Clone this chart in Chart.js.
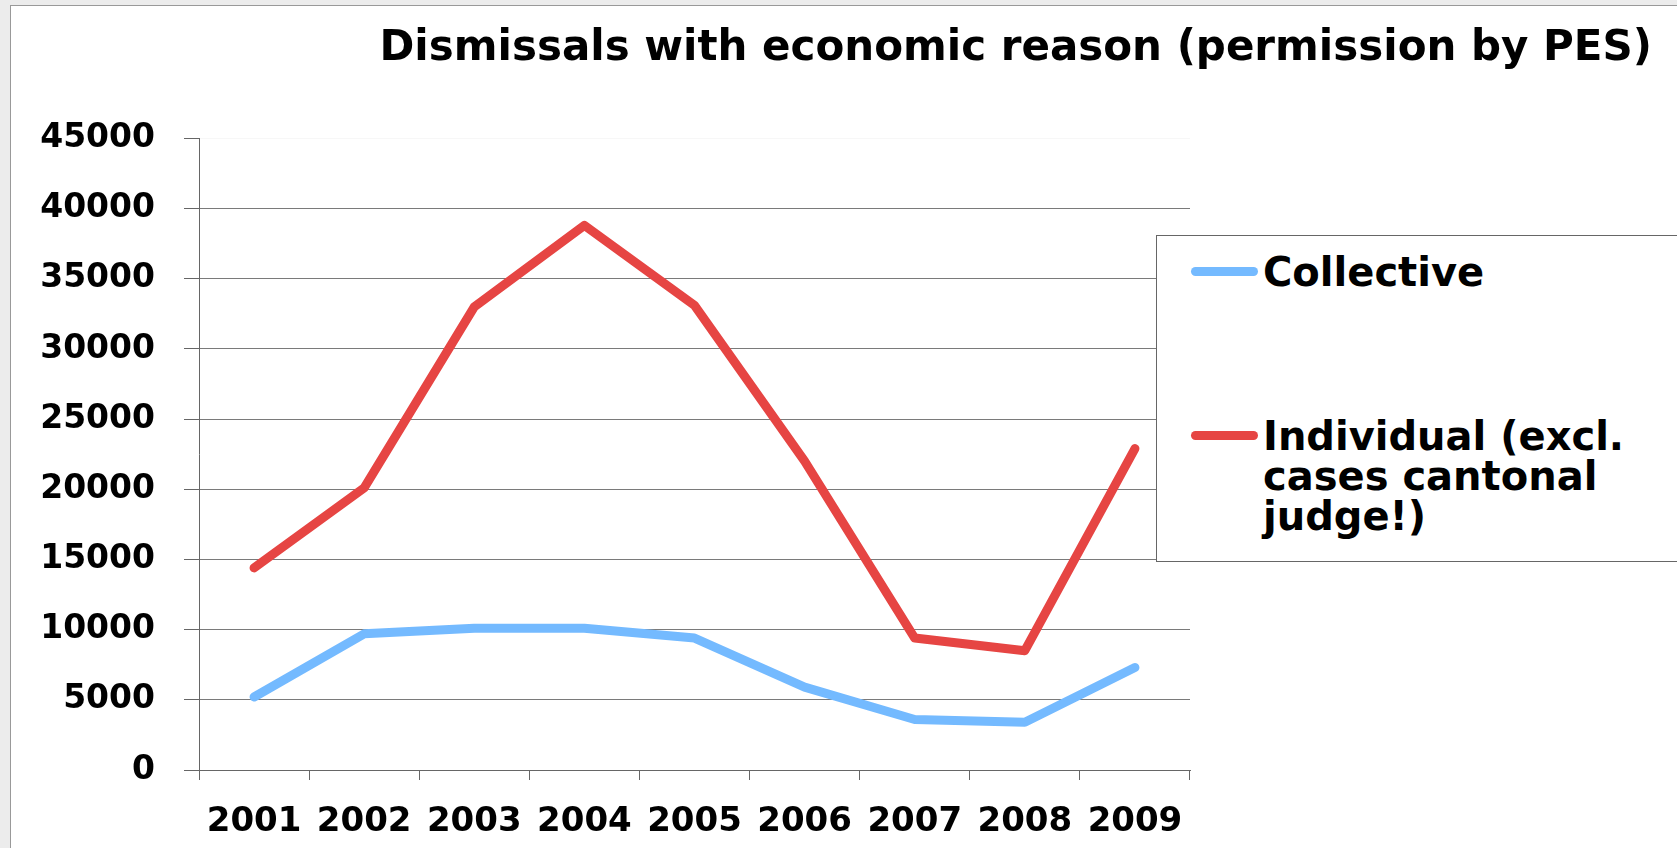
<!DOCTYPE html>
<html>
<head>
<meta charset="utf-8">
<script src="https://cdn.jsdelivr.net/npm/chart.js@4.4.1/dist/chart.umd.min.js"></script>
<style>
    body { margin: 0; background: #ececec; overflow: hidden; }
    #panel {
        position: absolute; left: 10px; top: 5px; width: 1667px; height: 843px;
        background: #fff; border-left: 1px solid #999; border-top: 1px solid #999;
    }
    #chart { display: block; }
    #legend {
        position: absolute; left: 1156px; top: 235px; width: 600px; height: 327px;
        background: #fff; border: 1px solid #666; box-sizing: border-box;
        font-family: 'DejaVu Sans', sans-serif; font-weight: bold; font-size: 40px; line-height: 40px;
        color: #000;
    }
    #legend ul { list-style: none; margin: 0; padding: 0 0 0 34px; }
    #legend li { display: flex; align-items: flex-start; }
    #legend li:first-child { margin-top: 16px; }
    #legend li + li { margin-top: 124px; }
    #legend .mark { flex: none; width: 67px; height: 9px; border-radius: 5px; margin: 15px 5px 0 0; }
    #legend .txt { width: 420px; }
</style>
</head>
<body>
<div id="panel">
    <canvas id="chart" width="1666" height="842"></canvas>
</div>
<div id="legend"></div>
<script>
    // Dữ liệu
    const years = ['2001', '2002', '2003', '2004', '2005', '2006', '2007', '2008', '2009'];
    const collective = [5200, 9700, 10100, 10100, 9400, 5900, 3600, 3400, 7300];
    const individual = [14400, 20100, 33000, 38800, 33100, 22000, 9400, 8500, 22900];
    const yMin = 0;
    const yMax = 45000;
    const yStep = 5000;

    // Legend HTML nằm đè lên vùng biểu đồ
    const htmlLegend = {
        id: 'htmlLegend',
        afterUpdate(chart) {
            const box = document.getElementById('legend');
            box.innerHTML = '';
            const ul = document.createElement('ul');
            const items = chart.options.plugins.legend.labels.generateLabels(chart);
            items.forEach(item => {
                const li = document.createElement('li');
                const mark = document.createElement('span');
                mark.className = 'mark';
                mark.style.background = item.strokeStyle;
                const txt = document.createElement('span');
                txt.className = 'txt';
                txt.textContent = item.text;
                li.appendChild(mark);
                li.appendChild(txt);
                ul.appendChild(li);
            });
            box.appendChild(ul);
        }
    };

    const ctx = document.getElementById('chart').getContext('2d');
    const chart = new Chart(ctx, {
        type: 'line',
        data: {
            labels: years,
            datasets: [{
                label: 'Collective',
                data: collective,
                borderColor: 'rgb(116, 186, 255)',
                backgroundColor: 'rgb(116, 186, 255)',
                borderWidth: 9,
                borderCapStyle: 'round',
                borderJoinStyle: 'round',
                pointRadius: 0,
                tension: 0
            }, {
                label: 'Individual (excl. cases cantonal judge!)',
                data: individual,
                borderColor: 'rgb(230, 69, 67)',
                backgroundColor: 'rgb(230, 69, 67)',
                borderWidth: 9,
                borderCapStyle: 'round',
                borderJoinStyle: 'round',
                pointRadius: 0,
                tension: 0
            }]
        },
        options: {
            responsive: false,
            animation: false,
            devicePixelRatio: 1,
            layout: { padding: { top: 0, left: 0, right: 25, bottom: 0 } },
            plugins: {
                legend: { display: false },
                tooltip: { enabled: false },
                title: {
                    display: true,
                    text: 'Dismissals with economic reason (permission by PES)',
                    align: 'end',
                    color: '#000',
                    font: { family: 'DejaVu Sans', size: 42, weight: 'bold', lineHeight: 1.2 },
                    padding: { top: 18, bottom: 64 }
                }
            },
            scales: {
                x: {
                    offset: true,
                    grid: { display: true, drawOnChartArea: false, drawTicks: true, tickLength: 10, color: '#666', offset: true },
                    border: { display: true, color: '#666' },
                    ticks: {
                        color: '#000',
                        padding: 22,
                        maxRotation: 0,
                        font: { family: 'DejaVu Sans', size: 34, weight: 'bold' }
                    },
                    afterFit(scale) { scale.height = 78; }
                },
                y: {
                    min: yMin,
                    max: yMax,
                    grid: {
                        color: c => c.tick && c.tick.value === yMax ? 'rgba(0,0,0,0.03)' : '#7a7a7a',
                        tickColor: '#666',
                        tickLength: 15
                    },
                    border: { display: true, color: '#666' },
                    ticks: {
                        stepSize: yStep,
                        color: '#000',
                        padding: 29,
                        format: { useGrouping: false },
                        font: { family: 'DejaVu Sans', size: 33, weight: 'bold' }
                    },
                    afterFit(scale) { scale.width = 188; }
                },
                // trục phụ chỉ để chừa khoảng trống bên phải (chỗ legend)
                yRight: {
                    position: 'right',
                    display: true,
                    grid: { display: false },
                    border: { display: false },
                    ticks: { display: false },
                    afterFit(scale) { scale.width = 462; }
                }
            }
        },
        plugins: [htmlLegend]
    });
</script>
</body>
</html>
